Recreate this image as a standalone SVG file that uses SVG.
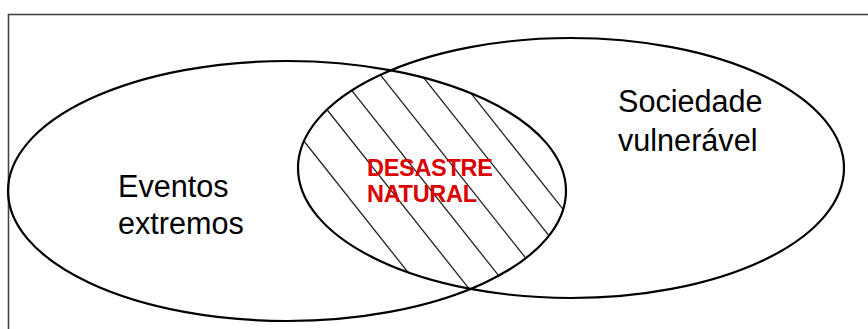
<svg xmlns="http://www.w3.org/2000/svg" width="868" height="329" viewBox="0 0 868 329">
<style>
.set{fill:none;stroke:#000;stroke-width:2.2}
.lbl{font-family:"Liberation Sans",Arial,sans-serif;font-size:30.6px;fill:#000}
.red{font-family:"Liberation Sans",Arial,sans-serif;font-size:23.5px;font-weight:bold;fill:#dc0000;letter-spacing:-0.3px}
.hatch{stroke:#222;stroke-width:1.3}
</style>
<defs>
<clipPath id="cL"><ellipse cx="287" cy="191" rx="279" ry="130"/></clipPath>
<clipPath id="cR"><ellipse cx="571" cy="168" rx="273" ry="130"/></clipPath>
</defs>
<rect width="868" height="329" fill="#fff"/>
<g id="frame"><rect x="8.5" y="14.5" width="900" height="400" fill="none" stroke="#444" stroke-width="1.6"/></g>
<g id="intersection">
<g clip-path="url(#cL)"><g clip-path="url(#cR)">
<line class="hatch" x1="192" y1="0" x2="453" y2="329"/>
<line class="hatch" x1="240" y1="0" x2="501" y2="329"/>
<line class="hatch" x1="280" y1="0" x2="541" y2="329"/>
<line class="hatch" x1="321" y1="0" x2="582" y2="329"/>
<line class="hatch" x1="362" y1="0" x2="623" y2="329"/>
<line class="hatch" x1="397" y1="0" x2="658" y2="329"/>
</g></g>
<text class="red" x="367" y="176">DESASTRE</text>
<text class="red" x="367" y="202">NATURAL</text>
</g>
<g id="eventos-extremos">
<ellipse class="set" cx="287" cy="191" rx="279" ry="130"/>
<text class="lbl" x="118" y="197">Eventos</text>
<text class="lbl" x="118" y="234">extremos</text>
</g>
<g id="sociedade-vulneravel">
<ellipse class="set" cx="571" cy="168" rx="273" ry="130"/>
<text class="lbl" x="618" y="112">Sociedade</text>
<text class="lbl" x="618" y="151">vulnerável</text>
</g>
</svg>
